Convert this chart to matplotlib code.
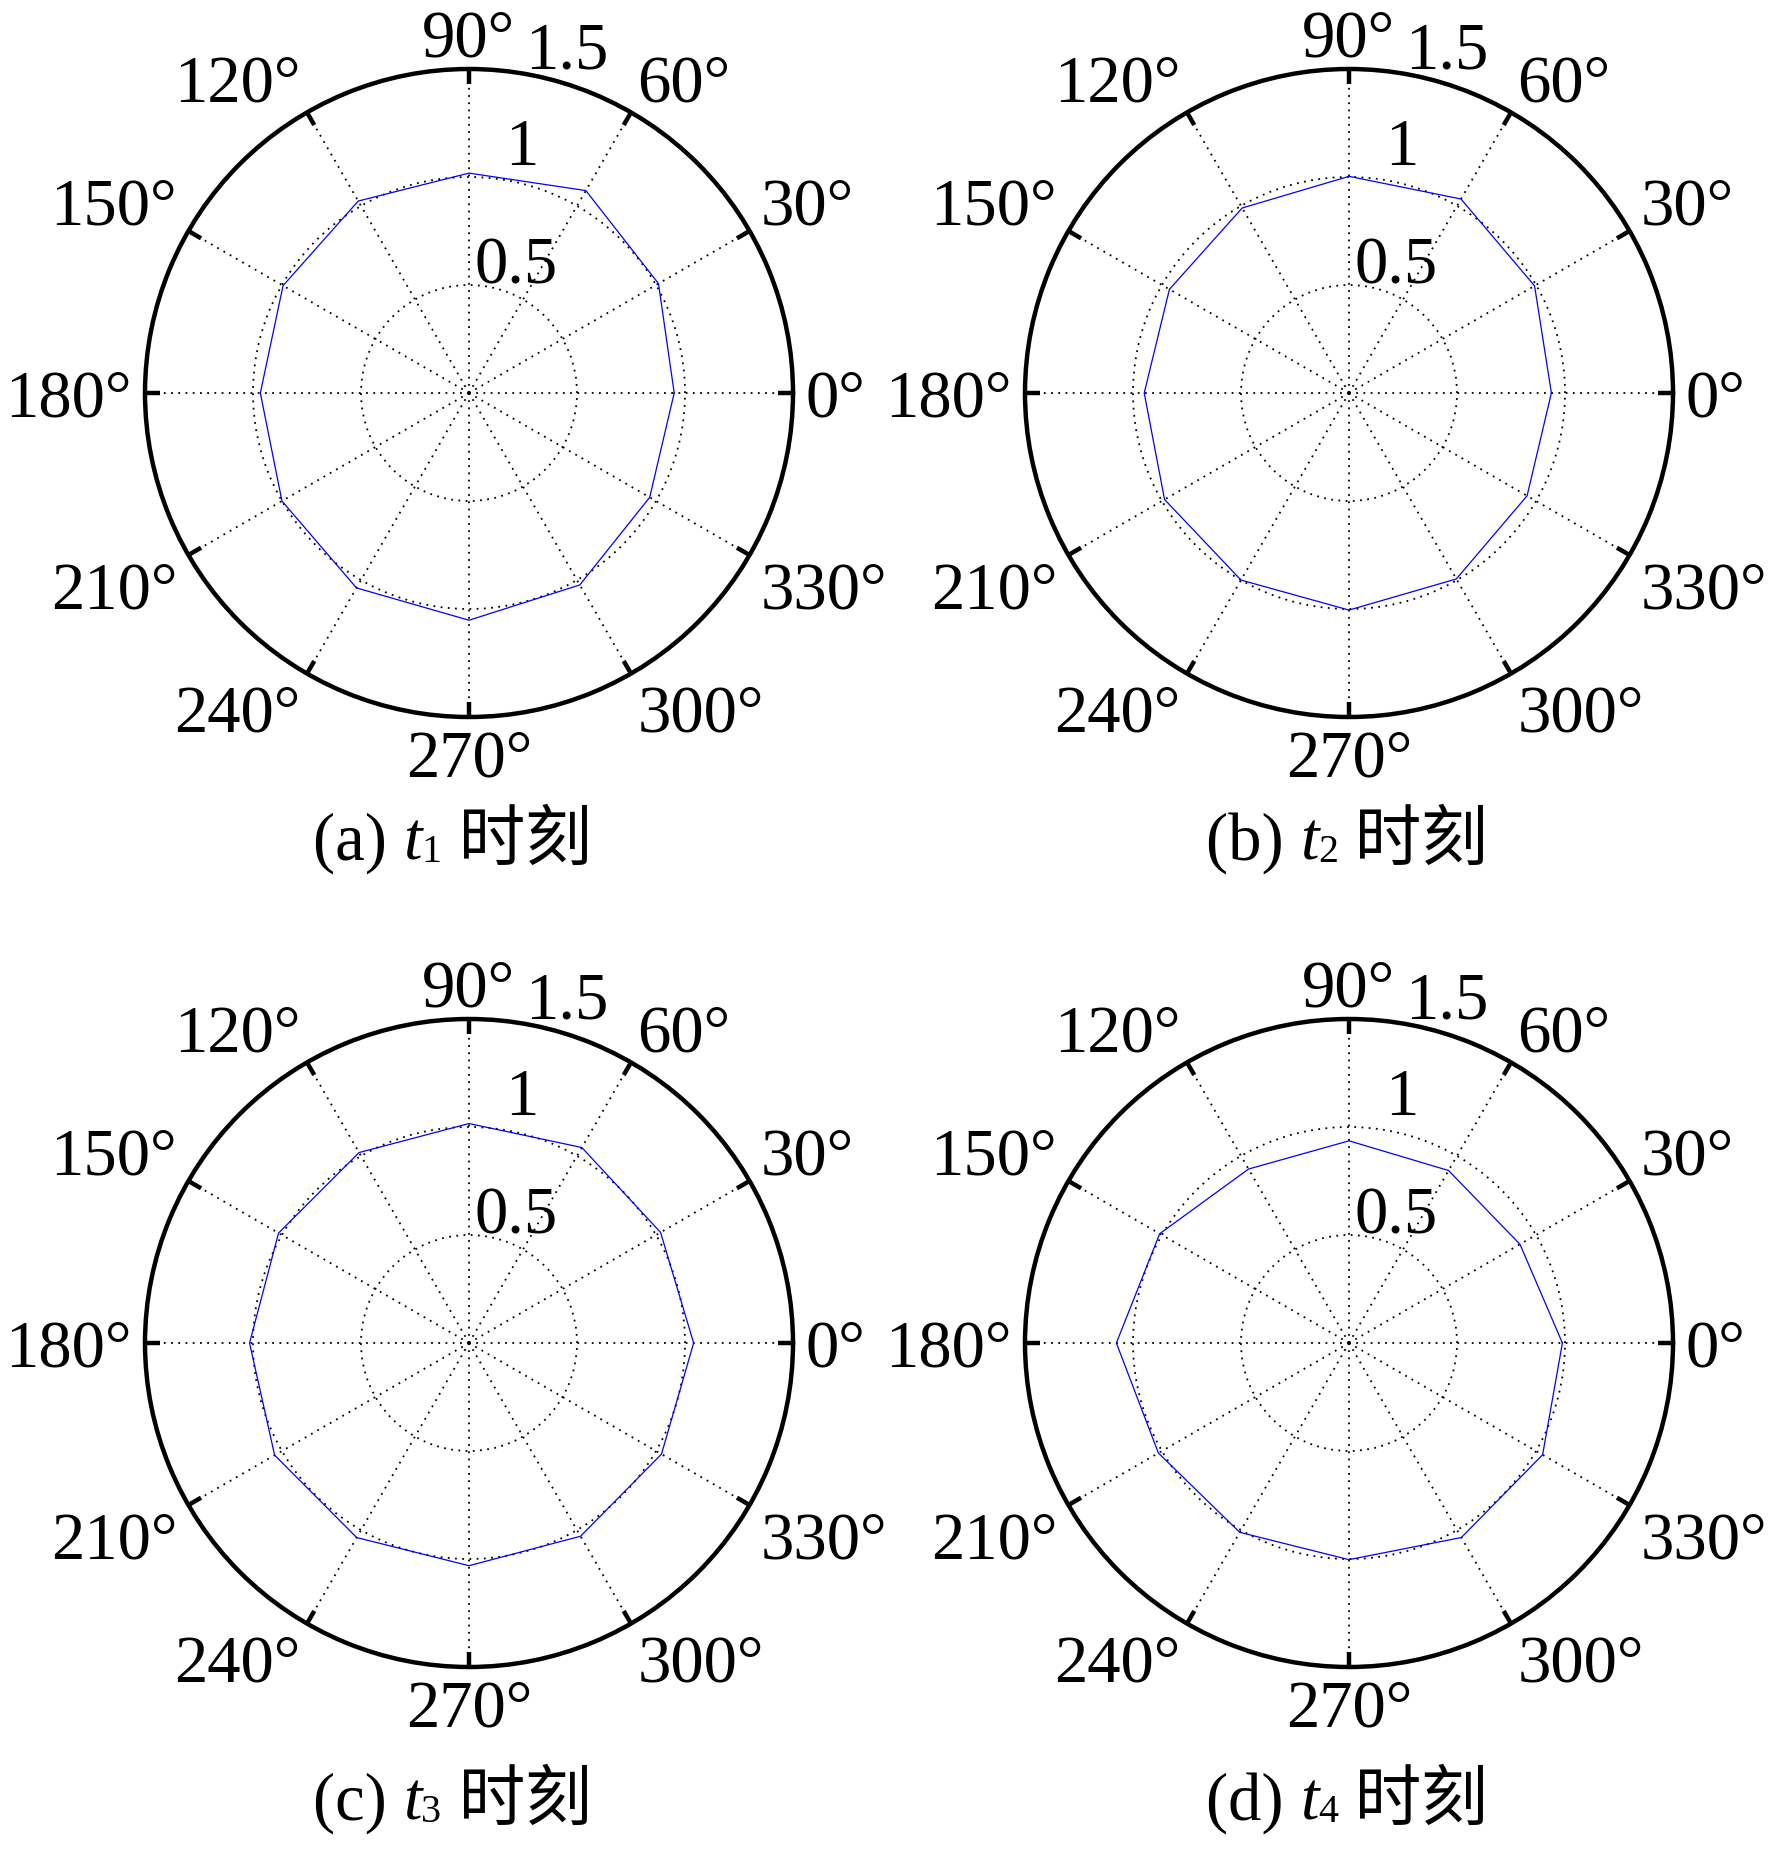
import numpy as np
import matplotlib
matplotlib.use("Agg")
import matplotlib.pyplot as plt


# ==========================
# DADOS
# ==========================
angulos = [0, 30, 60, 90, 120, 150, 180, 210, 240, 270, 300, 330]

valores_t1 = [0.950, 1.013, 1.082, 1.018, 1.026, 0.994, 0.966, 1.000, 1.042, 1.052, 1.026, 0.966]
valores_t2 = [0.937, 0.992, 1.037, 1.003, 0.989, 0.960, 0.948, 0.986, 1.000, 1.005, 0.994, 0.952]
valores_t3 = [1.040, 1.024, 1.045, 1.016, 1.018, 1.018, 1.016, 1.039, 1.040, 1.031, 1.033, 1.029]
valores_t4 = [0.988, 0.914, 0.922, 0.936, 0.930, 1.012, 1.077, 1.019, 1.012, 1.003, 1.040, 1.035]

rotulos = ["a", "b", "c", "d"]
indices = ["1", "2", "3", "4"]
raios = [0.5, 1.0, 1.5]
rmax = 1.5

LATIM = "Liberation Serif"
CJK = "Noto Sans CJK SC"
FS = 48

plt.rcParams['font.family'] = [LATIM, CJK]

W, H = 1772, 1853
fig = plt.figure(figsize=(W / 100, H / 100), dpi=100)

# centros dos paineis (px) e raio
centros = [(469, 393), (1349, 393), (469, 1343), (1349, 1343)]
R = 324
legendas_x = [452, 1347, 452, 1347]
legendas_y = [836, 836, 1796, 1796]

# posicao dos rotulos radiais (em unidades do raio, x/y cartesianos)
pos_rotulos_r = [(0.22, 0.617), (0.246, 1.164), (0.454, 1.612)]


# ==========================
# FUNÇÃO: Painel polar
# ==========================
def painel(cx, cy, valores):
    ax = fig.add_axes([(cx - R) / W, 1 - (cy + R) / H, 2 * R / W, 2 * R / H],
                      projection='polar')
    th = np.deg2rad(angulos + [angulos[0]])
    v = valores + [valores[0]]
    ax.plot(th, v, color='#0000ff', lw=0.9)

    ax.set_ylim(0, rmax)
    ax.set_yticks(raios)
    ax.set_yticklabels([])
    ax.set_xticks(np.deg2rad(angulos))
    ax.set_xticklabels([])
    ax.grid(True, color='k', lw=1.3, linestyle=(0, (1, 3)))
    ax.spines['polar'].set_linewidth(3.2)
    ax.tick_params(length=0)

    # marcas curtas na borda (estilo MATLAB)
    ax.vlines(np.deg2rad(angulos), rmax * 0.955, rmax, colors='k', lw=3.2)

    # rotulos angulares estilo MATLAB
    r_lab = 1.56
    for a in angulos:
        rad = np.deg2rad(a)
        c, s = np.cos(rad), np.sin(rad)
        ha = 'left' if c > 0.1 else ('right' if c < -0.1 else 'center')
        if s > 0.1:
            va = 'baseline'
        elif s < -0.1:
            va = 'top'
        else:
            va = 'center_baseline'
        ax.text(rad, r_lab, f"{a}°", ha=ha, va=va, fontsize=FS,
                family=LATIM, clip_on=False)

    # rotulos radiais
    for r, (x, y) in zip(raios, pos_rotulos_r):
        txt = f"{r:g}"
        ax.text(np.arctan2(y, x), np.hypot(x, y), txt, ha='center',
                va='center_baseline', fontsize=FS, family=LATIM, clip_on=False)
    return ax


# ==========================
# FUNÇÃO: Legenda "(a) t1 时刻"
# ==========================
def legenda(xc, yc, rot, idx):
    ren = fig.canvas.get_renderer()
    pecas = [
        (f"({rot}) ", dict(fontsize=FS, family=[LATIM]), 0),
        ("t", dict(fontsize=FS, family=[LATIM], style='italic'), 0),
        (idx, dict(fontsize=FS * 0.6, family=[LATIM]), -12),
        (" 时刻", dict(fontsize=FS, family=[LATIM, CJK]), 0),
    ]
    y = 1 - yc / H
    x = 0.0
    textos = []
    for s, kw, dy in pecas:
        t = fig.text(x, y + dy / H, s, ha='left', va='center_baseline', **kw)
        bb = t.get_window_extent(ren)
        textos.append(t)
        x += bb.width / W
    desloc = xc / W - x / 2
    for t in textos:
        px, py = t.get_position()
        t.set_position((px + desloc, py))


series = [valores_t1, valores_t2, valores_t3, valores_t4]
for (cx, cy), vals in zip(centros, series):
    painel(cx, cy, vals)

for xc, yc, rot, idx in zip(legendas_x, legendas_y, rotulos, indices):
    legenda(xc, yc, rot, idx)

fig.savefig("out.png", dpi=100, facecolor='white')
